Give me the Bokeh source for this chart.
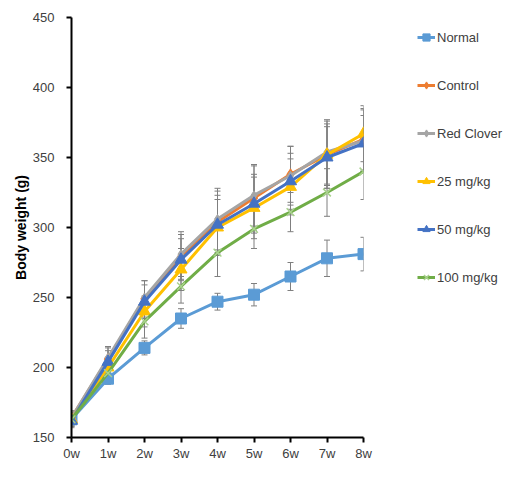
from bokeh.plotting import figure
from bokeh.models import ColumnDataSource, Whisker, TeeHead, Legend, LegendItem, Range1d, FixedTicker
from bokeh.embed import file_html
from bokeh.resources import INLINE

weeks = [0, 1, 2, 3, 4, 5, 6, 7, 8]
week_labels = ["0w", "1w", "2w", "3w", "4w", "5w", "6w", "7w", "8w"]

normal = [163, 192, 214, 235, 247, 252, 265, 278, 281]
normal_sd = [4, 4, 5, 7, 6, 8, 10, 13, 12]
control = [164, 206, 249, 279, 304, 321, 338, 352, 363]
control_sd = [5, 8, 13, 16, 22, 23, 20, 24, 22]
red_clover = [164, 207, 250, 281, 306, 323, 337, 354, 362]
red_clover_sd = [5, 8, 12, 16, 22, 22, 21, 23, 22]
mg25 = [163, 200, 240, 270, 300, 314, 329, 352, 367]
mg25_sd = [5, 7, 11, 15, 20, 22, 20, 22, 20]
mg50 = [162, 204, 247, 277, 302, 317, 333, 350, 360]
mg50_sd = [5, 8, 12, 15, 21, 21, 20, 22, 20]
mg100 = [163, 196, 233, 258, 282, 299, 311, 325, 340]
mg100_sd = [5, 6, 12, 12, 17, 14, 14, 17, 20]

names = ["Normal", "Control", "Red Clover", "25 mg/kg", "50 mg/kg", "100 mg/kg"]
values = [normal, control, red_clover, mg25, mg50, mg100]
sds = [normal_sd, control_sd, red_clover_sd, mg25_sd, mg50_sd, mg100_sd]
colors = ["#5B9BD5", "#ED7D31", "#A5A5A5", "#FFC000", "#4472C4", "#70AD47"]
markers = ["square", "diamond", "diamond", "triangle", "triangle", "x"]
msizes = [11, 11, 9, 12, 12, 11]

p = figure(frame_width=292, frame_height=420, min_border_left=71, min_border_right=10,
           min_border_top=17, min_border_bottom=38, output_backend="svg",
           toolbar_location=None, x_range=Range1d(0, 8), y_range=Range1d(150, 450))
p.outline_line_color = None
p.xgrid.visible = False
p.ygrid.visible = False
p.background_fill_color = "white"
p.border_fill_color = "white"

tick_font = "Liberation Sans"
p.xaxis.ticker = FixedTicker(ticks=weeks)
p.xaxis.major_label_overrides = {w: l for w, l in zip(weeks, week_labels)}
p.yaxis.ticker = FixedTicker(ticks=[150, 200, 250, 300, 350, 400, 450])
for ax in (p.xaxis, p.yaxis):
    ax.axis_line_color = "#000000"
    ax.axis_line_width = 2
    ax.major_tick_line_color = "#000000"
    ax.major_tick_line_width = 2
    ax.major_tick_out = 5
    ax.major_tick_in = 0
    ax.minor_tick_line_color = None
    ax.major_label_text_font = tick_font
    ax.major_label_text_font_size = "13px"
    ax.major_label_text_color = "#404040"
p.xaxis.major_label_standoff = 3
p.yaxis.major_label_standoff = 12
p.yaxis.axis_label = "Body weight (g)"
p.yaxis.axis_label_text_font = "Liberation Sans"
p.yaxis.axis_label_text_font_style = "bold"
p.yaxis.axis_label_text_font_size = "14px"
p.yaxis.axis_label_text_color = "#000000"
p.yaxis.axis_label_standoff = 1

items = []
for name, vals, sd, c, m, ms in zip(names, values, sds, colors, markers, msizes):
    src = ColumnDataSource(dict(x=weeks, y=vals,
                                upper=[v + s for v, s in zip(vals, sd)],
                                lower=[v - s for v, s in zip(vals, sd)]))
    w = Whisker(source=src, base="x", upper="upper", lower="lower",
                line_color="#7F7F7F", line_width=1,
                upper_head=TeeHead(size=6, line_color="#7F7F7F", line_width=1),
                lower_head=TeeHead(size=6, line_color="#7F7F7F", line_width=1))
    p.add_layout(w)
    ln = p.line("x", "y", source=src, line_color=c, line_width=3)
    if m == "x":
        mk = p.scatter("x", "y", source=src, marker=m, size=ms, line_color="#A9D18E", line_width=1.5)
    else:
        mk = p.scatter("x", "y", source=src, marker=m, size=ms, fill_color=c, line_color=c)
    items.append(LegendItem(label=name, renderers=[ln, mk]))

legend = Legend(items=items, location=(54, 150), orientation="vertical")
legend.spacing = 28
legend.glyph_height = 20
legend.glyph_width = 18
legend.label_standoff = 2
legend.padding = 0
legend.margin = 0
legend.border_line_color = None
legend.background_fill_alpha = 0
legend.label_text_font = tick_font
legend.label_text_font_size = "13px"
legend.label_text_color = "#404040"
legend.label_height = 20
p.add_layout(legend, "right")

open("out.html", "w").write(file_html(p, INLINE))
